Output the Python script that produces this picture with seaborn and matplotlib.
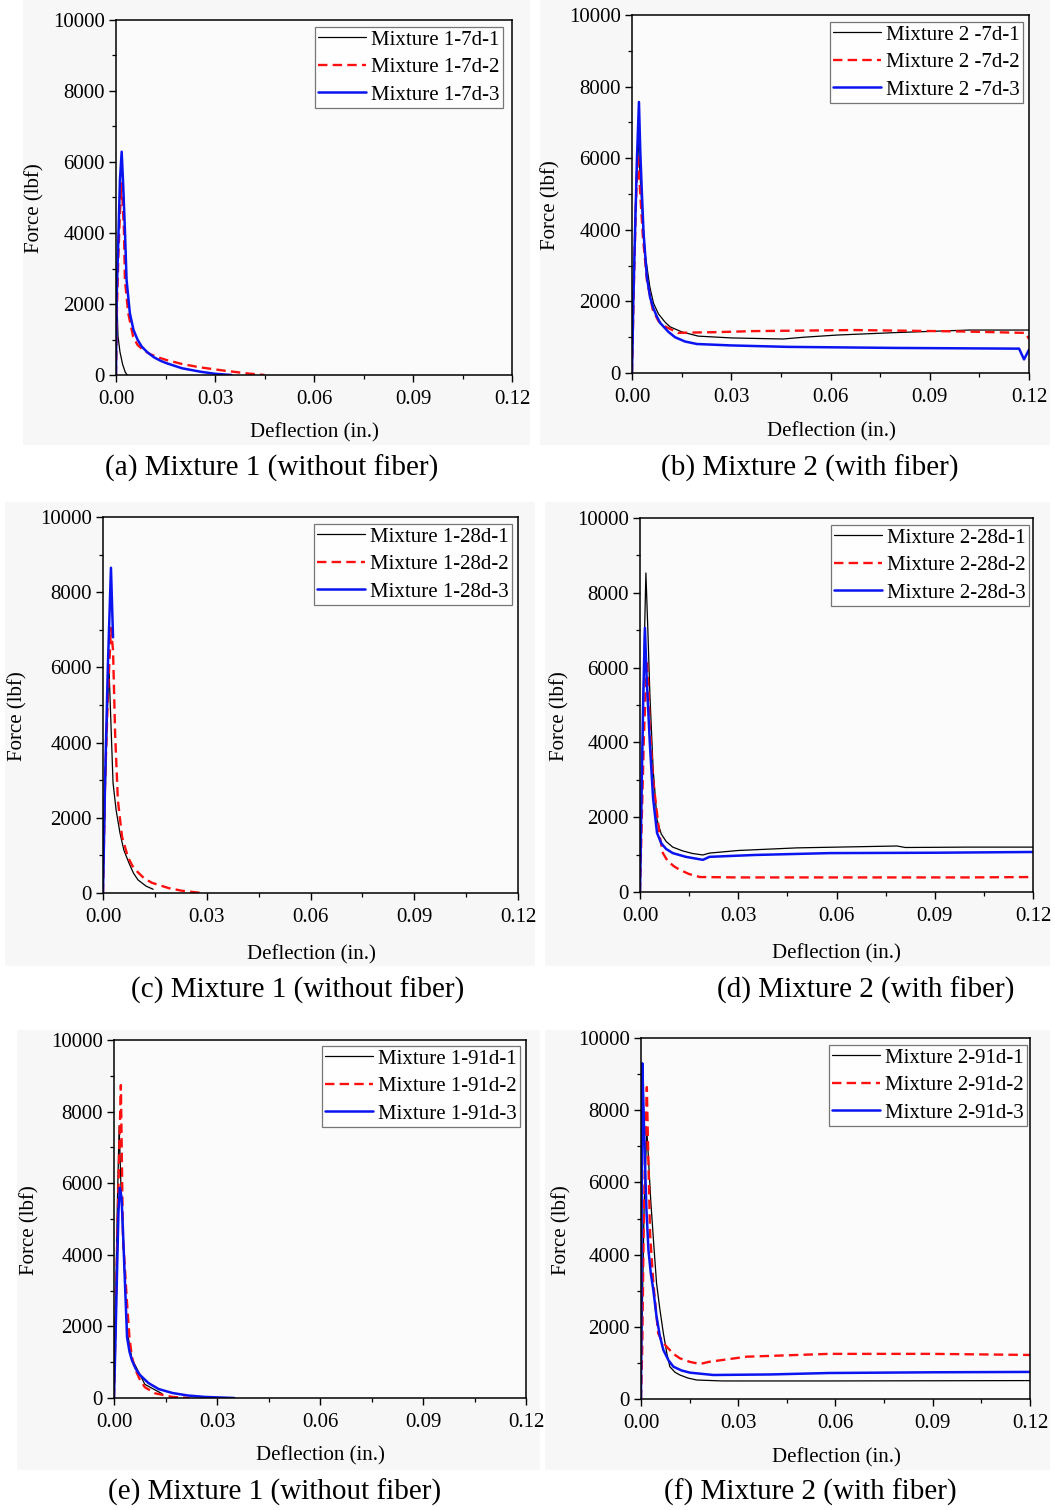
import numpy as np
import pandas as pd
import matplotlib
matplotlib.use("Agg")
import matplotlib.pyplot as plt
from matplotlib.ticker import MultipleLocator
from matplotlib.patches import Rectangle
import seaborn as sns

sns.set_theme(style="ticks")
plt.rcParams["font.family"] = ["Liberation Serif", "DejaVu Serif"]
plt.rcParams["axes.linewidth"] = 1.1
plt.rcParams["text.color"] = "black"
plt.rcParams["axes.labelcolor"] = "black"
plt.rcParams["xtick.color"] = "black"
plt.rcParams["ytick.color"] = "black"

# ---------------- data: deflection (in.) vs force (lbf) ----------------
# (a) Mixture 1, 7 days
m1_7d_1_x = [0, 0.0001, 0.0003, 0.0006, 0.0012, 0.0020, 0.0028, 0.0034]
m1_7d_1_y = [0, 2400, 2000, 1100, 650, 300, 80, 0]
m1_7d_2_x = [0, 0.0003, 0.0007, 0.0012, 0.00172, 0.0024, 0.0027, 0.0037, 0.0052, 0.0065, 0.0083, 0.0105, 0.0130, 0.0154, 0.0200, 0.0255, 0.0330, 0.0396, 0.045]
m1_7d_2_y = [0, 1900, 3300, 4600, 5400, 4085, 2680, 1740, 1080, 850, 700, 580, 490, 420, 310, 215, 120, 47, 0]
m1_7d_3_x = [0, 0.0002, 0.0007, 0.0012, 0.00172, 0.0022, 0.0027, 0.0032, 0.0042, 0.0053, 0.0065, 0.0078, 0.0095, 0.0115, 0.0135, 0.0154, 0.0200, 0.0255, 0.0300, 0.035]
m1_7d_3_y = [0, 2200, 3800, 5500, 6290, 5300, 4085, 2680, 1740, 1270, 1000, 800, 640, 500, 400, 330, 190, 94, 35, 0]

# (b) Mixture 2, 7 days
m2_7d_1_x = [0, 0.0005, 0.0012, 0.0018, 0.0024, 0.0030, 0.0040, 0.0054, 0.0065, 0.0080, 0.0100, 0.0115, 0.0150, 0.0200, 0.0300, 0.0400, 0.0457, 0.0520, 0.0620, 0.0800, 0.1020, 0.1200]
m2_7d_1_y = [0, 2500, 5200, 6600, 5600, 4600, 3300, 2400, 1950, 1650, 1420, 1290, 1150, 1030, 980, 960, 950, 1000, 1060, 1130, 1200, 1200]
m2_7d_2_x = [0, 0.0005, 0.0012, 0.0018, 0.0025, 0.0033, 0.0045, 0.0063, 0.0080, 0.0100, 0.0140, 0.0180, 0.0250, 0.0366, 0.0670, 0.1000, 0.1190, 0.1200]
m2_7d_2_y = [0, 2200, 4800, 6100, 5000, 3800, 2600, 1760, 1450, 1300, 1120, 1130, 1140, 1170, 1200, 1160, 1120, 950]
m2_7d_3_x = [0, 0.0004, 0.0008, 0.0015, 0.0021, 0.0025, 0.0030, 0.0035, 0.0045, 0.0055, 0.0065, 0.0075, 0.0085, 0.0110, 0.0130, 0.0160, 0.0196, 0.0300, 0.0470, 0.0800, 0.1170, 0.1185, 0.1200]
m2_7d_3_y = [0, 2000, 3500, 6000, 7570, 6200, 5000, 3900, 2680, 2100, 1800, 1580, 1400, 1150, 1000, 880, 810, 770, 730, 700, 680, 380, 650]

# (c) Mixture 1, 28 days
m1_28d_1_x = [0, 0.0006, 0.0012, 0.0017, 0.0023, 0.0029, 0.0038, 0.0049, 0.0060, 0.0075, 0.0088, 0.0101, 0.0125, 0.0145]
m1_28d_1_y = [0, 2500, 4600, 6060, 4500, 2930, 2200, 1600, 1150, 800, 530, 350, 180, 100]
m1_28d_2_x = [0, 0.0006, 0.0014, 0.0023, 0.0029, 0.0035, 0.0043, 0.0055, 0.0072, 0.0085, 0.0100, 0.0120, 0.0142, 0.0190, 0.0228, 0.0286]
m1_28d_2_y = [0, 2900, 5200, 7050, 6460, 4250, 2470, 1500, 960, 720, 560, 380, 270, 130, 60, 0]
m1_28d_3_x = [0, 0.0006, 0.0014, 0.0023, 0.0029]
m1_28d_3_y = [0, 3000, 6000, 8650, 6800]

# (d) Mixture 2, 28 days
m2_28d_1_x = [0, 0.0006, 0.0012, 0.0018, 0.0024, 0.0030, 0.0040, 0.0052, 0.0065, 0.0080, 0.0100, 0.0130, 0.0160, 0.0192, 0.0212, 0.0300, 0.0480, 0.0785, 0.0810, 0.1000, 0.1200]
m2_28d_1_y = [0, 3000, 6200, 8530, 7000, 5320, 3300, 1925, 1550, 1350, 1200, 1100, 1030, 990, 1040, 1110, 1180, 1230, 1190, 1200, 1200]
m2_28d_2_x = [0, 0.0005, 0.0012, 0.0021, 0.0026, 0.0030, 0.0040, 0.0052, 0.0060, 0.0070, 0.0085, 0.0105, 0.0122, 0.0150, 0.0183, 0.0300, 0.0600, 0.1000, 0.1200]
m2_28d_2_y = [0, 1800, 4200, 6200, 5400, 4420, 3000, 2100, 1500, 1040, 820, 680, 590, 480, 400, 390, 390, 390, 400]
m2_28d_3_x = [0, 0.0005, 0.0010, 0.0015, 0.0020, 0.0030, 0.0040, 0.0052, 0.0065, 0.0080, 0.0100, 0.0140, 0.0192, 0.0212, 0.0350, 0.0580, 0.0900, 0.1200]
m2_28d_3_y = [0, 2800, 5200, 7060, 5800, 3980, 2500, 1580, 1300, 1150, 1040, 940, 860, 940, 990, 1040, 1050, 1070]

# (e) Mixture 1, 91 days
m1_91d_1_x = [0, 0.0005, 0.0010, 0.0015, 0.0020, 0.0026, 0.0038, 0.0052, 0.0090, 0.0140]
m1_91d_1_y = [0, 2800, 5500, 7600, 6000, 4500, 1900, 1100, 380, 120]
m1_91d_2_x = [0, 0.0005, 0.0010, 0.0015, 0.0020, 0.0026, 0.0038, 0.0045, 0.0052, 0.0062, 0.0075, 0.0090, 0.0120, 0.0170, 0.0220]
m1_91d_2_y = [0, 2400, 4600, 6800, 8740, 4500, 2650, 1700, 1150, 800, 520, 300, 130, 30, 0]
m1_91d_3_x = [0, 0.0004, 0.0009, 0.0013, 0.0017, 0.0022, 0.0026, 0.0038, 0.0045, 0.0052, 0.0063, 0.0075, 0.0100, 0.0130, 0.0170, 0.0215, 0.0265, 0.0350]
m1_91d_3_y = [0, 1500, 3600, 5200, 5870, 5600, 4700, 1700, 1300, 1060, 820, 650, 420, 250, 140, 70, 30, 0]

# (f) Mixture 2, 91 days
m2_91d_1_x = [0, 0.0004, 0.0010, 0.0018, 0.0024, 0.0030, 0.0040, 0.0048, 0.0058, 0.0069, 0.0080, 0.0089, 0.0105, 0.0120, 0.0145, 0.0172, 0.0250, 0.0580, 0.0900, 0.1200]
m2_91d_1_y = [0, 2500, 5500, 7450, 6500, 5500, 4200, 3205, 2500, 1820, 1250, 895, 740, 665, 580, 526, 500, 500, 505, 510]
m2_91d_2_x = [0, 0.0004, 0.0008, 0.0013, 0.0018, 0.0022, 0.0028, 0.0038, 0.0053, 0.0065, 0.0079, 0.0100, 0.0120, 0.0150, 0.0182, 0.0210, 0.0326, 0.0580, 0.0900, 0.1200]
m2_91d_2_y = [0, 1500, 4600, 7000, 8640, 6900, 4590, 3205, 1820, 1600, 1450, 1250, 1127, 1030, 970, 1030, 1172, 1250, 1250, 1220]
m2_91d_3_x = [0, 0.0002, 0.0004, 0.0008, 0.0012, 0.0017, 0.0023, 0.0030, 0.0038, 0.0048, 0.0058, 0.0069, 0.0085, 0.0100, 0.0125, 0.0151, 0.0223, 0.0400, 0.0580, 0.0900, 0.1200]
m2_91d_3_y = [0, 5000, 9300, 8000, 6620, 5200, 4127, 3500, 3020, 2280, 1750, 1357, 1070, 895, 790, 730, 665, 680, 720, 740, 750]

panel_titles = ["(a) Mixture 1 (without fiber)", "(b) Mixture 2 (with fiber)",
                "(c) Mixture 1 (without fiber)", "(d) Mixture 2 (with fiber)",
                "(e) Mixture 1 (without fiber)", "(f) Mixture 2 (with fiber)"]

panel_series = [
    [("Mixture 1-7d-1", m1_7d_1_x, m1_7d_1_y), ("Mixture 1-7d-2", m1_7d_2_x, m1_7d_2_y), ("Mixture 1-7d-3", m1_7d_3_x, m1_7d_3_y)],
    [("Mixture 2 -7d-1", m2_7d_1_x, m2_7d_1_y), ("Mixture 2 -7d-2", m2_7d_2_x, m2_7d_2_y), ("Mixture 2 -7d-3", m2_7d_3_x, m2_7d_3_y)],
    [("Mixture 1-28d-1", m1_28d_1_x, m1_28d_1_y), ("Mixture 1-28d-2", m1_28d_2_x, m1_28d_2_y), ("Mixture 1-28d-3", m1_28d_3_x, m1_28d_3_y)],
    [("Mixture 2-28d-1", m2_28d_1_x, m2_28d_1_y), ("Mixture 2-28d-2", m2_28d_2_x, m2_28d_2_y), ("Mixture 2-28d-3", m2_28d_3_x, m2_28d_3_y)],
    [("Mixture 1-91d-1", m1_91d_1_x, m1_91d_1_y), ("Mixture 1-91d-2", m1_91d_2_x, m1_91d_2_y), ("Mixture 1-91d-3", m1_91d_3_x, m1_91d_3_y)],
    [("Mixture 2-91d-1", m2_91d_1_x, m2_91d_1_y), ("Mixture 2-91d-2", m2_91d_2_x, m2_91d_2_y), ("Mixture 2-91d-3", m2_91d_3_x, m2_91d_3_y)],
]

x_ticks = [0.00, 0.03, 0.06, 0.09, 0.12]
x_tick_labels = ["0.00", "0.03", "0.06", "0.09", "0.12"]
y_ticks = [0, 2000, 4000, 6000, 8000, 10000]
y_tick_labels = ["0", "2000", "4000", "6000", "8000", "10000"]

# ---------------- layout (pixel geometry) ----------------
W, H = 1055, 1510
fig = plt.figure(figsize=(W / 100, H / 100), dpi=100)
fig.patch.set_facecolor("white")

# axes boxes: left, right, top, bottom (pixels)
boxes = [(116, 512, 20, 375), (632, 1029, 15, 373),
         (103, 518, 517, 893), (640, 1033, 518, 892),
         (114, 526, 1040, 1398), (641, 1030, 1038, 1399)]
# faint backdrop of each panel: left, right, top, bottom
backs = [(23, 530, 0, 445), (540, 1050, 0, 445),
         (5, 535, 502, 966), (545, 1050, 502, 966),
         (17, 540, 1030, 1470), (545, 1050, 1030, 1470)]
ylabel_pos = [(35, 208), (551, 205), (18, 716), (560, 716), (30, 1230), (562, 1230)]
xlabel_pos = [(314, 433), (831, 432), (311, 955), (836, 954), (320, 1456), (836, 1458)]
title_pos = [(272, 468), (810, 468), (298, 990), (866, 990), (275, 1492), (810, 1492)]
legend_corner = [(503, 27), (1023, 22), (512, 524), (1029, 525), (520, 1046), (1027, 1045)]

styles = [dict(color="black", lw=0.9, ls="-"),
          dict(color="#ff1010", lw=1.7, ls=(0, (4, 2.2))),
          dict(color="#0a14f0", lw=1.8, ls="-")]

def fx(px):
    return px / W

def fy(py):
    return 1 - py / H

# backdrops live on a full-figure axes placed underneath everything else
bg = fig.add_axes([0, 0, 1, 1], zorder=-10)
bg.set_xlim(0, W)
bg.set_ylim(H, 0)
bg.axis("off")
for (l, r, t, b) in backs:
    bg.add_patch(Rectangle((l, t), r - l, b - t, facecolor="#f7f7f7", edgecolor="none"))

for i in range(6):
    l, r, t, b = boxes[i]
    ax = fig.add_axes([fx(l), fy(b), (r - l) / W, (b - t) / H])
    ax.set_facecolor("#fbfbfb")
    for (name, xs, ys), st in zip(panel_series[i], styles):
        df = pd.DataFrame({"Deflection": xs, "Force": ys})
        sns.lineplot(data=df, x="Deflection", y="Force", ax=ax, sort=False,
                     estimator=None, color=st["color"], lw=st["lw"],
                     linestyle=st["ls"], label=name)
    ax.set_xlim(0, 0.12)
    ax.set_ylim(0, 10000)
    ax.set_xticks(x_ticks)
    ax.set_xticklabels(x_tick_labels)
    ax.set_yticks(y_ticks)
    ax.set_yticklabels(y_tick_labels)
    ax.xaxis.set_minor_locator(MultipleLocator(0.015))
    ax.yaxis.set_minor_locator(MultipleLocator(1000))
    ax.tick_params(which="major", direction="out", length=5, width=1.0,
                   labelsize=15, colors="black")
    ax.tick_params(axis="x", which="major", pad=6)
    ax.tick_params(axis="y", which="major", pad=3)
    ax.tick_params(which="minor", direction="out", length=3, width=0.9, colors="black")
    for s in ax.spines.values():
        s.set_color("black")
        s.set_linewidth(1.1)

    ax.set_xlabel("Deflection (in.)", fontsize=15, color="black")
    ax.set_ylabel("Force (lbf)", fontsize=15, color="black")
    ax.xaxis.label.set_va("center")
    ax.yaxis.label.set_va("center")
    xl = xlabel_pos[i]
    yl = ylabel_pos[i]
    ax.xaxis.set_label_coords(fx(xl[0]), fy(xl[1]), transform=fig.transFigure)
    ax.yaxis.set_label_coords(fx(yl[0]), fy(yl[1]), transform=fig.transFigure)

    lc = legend_corner[i]
    leg = ax.legend(loc="upper right", bbox_to_anchor=(fx(lc[0]), fy(lc[1])),
                    bbox_transform=fig.transFigure, fontsize=15, frameon=True,
                    fancybox=False, shadow=False, borderaxespad=0,
                    borderpad=0.15, labelspacing=0.38, handlelength=2.3,
                    handletextpad=0.25)
    leg.get_frame().set_edgecolor("#555555")
    leg.get_frame().set_linewidth(0.9)
    leg.get_frame().set_facecolor("white")
    for txt in leg.get_texts():
        txt.set_color("black")

    tp = title_pos[i]
    fig.text(fx(tp[0]), fy(tp[1]), panel_titles[i], fontsize=21,
             ha="center", va="center", color="black")

fig.savefig("out.png", dpi=100)
